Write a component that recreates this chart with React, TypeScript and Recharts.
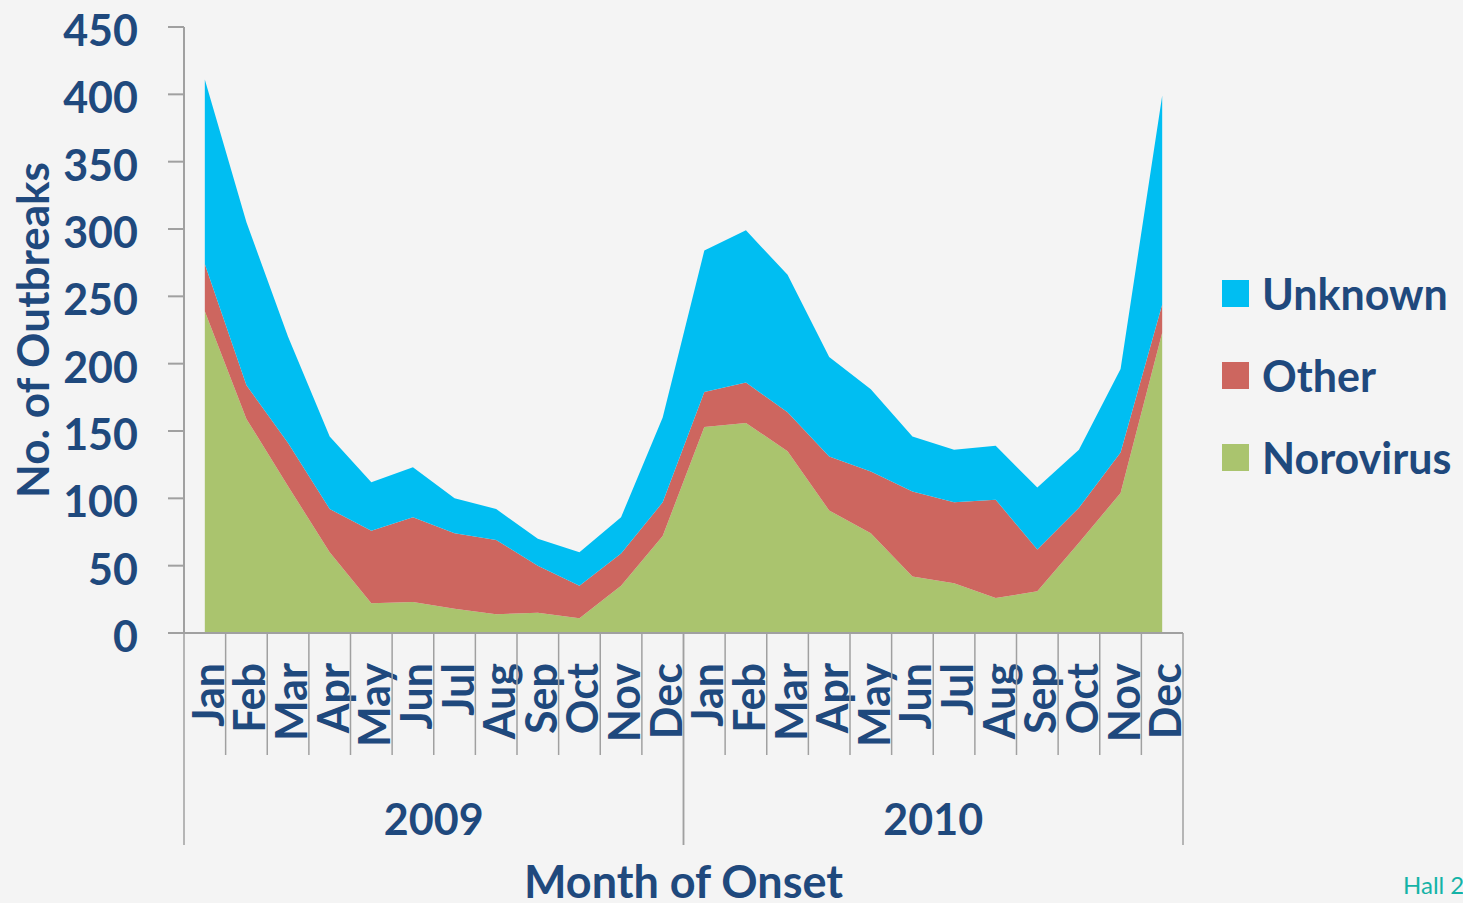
import React from 'react';
import { AreaChart, Area, XAxis, YAxis, Legend } from 'recharts';

const months = ['Jan', 'Feb', 'Mar', 'Apr', 'May', 'Jun', 'Jul', 'Aug', 'Sep', 'Oct', 'Nov', 'Dec'];
const years = ['2009', '2010'];
const norovirus = [239, 159, 109, 60, 22, 23, 18, 14, 15, 11, 35, 72, 153, 156, 135, 91, 74, 42, 37, 26, 31, 67, 104, 223];
const other = [35, 25, 32, 32, 54, 63, 56, 55, 35, 24, 24, 25, 26, 30, 29, 40, 46, 63, 60, 73, 31, 26, 30, 21];
const unknown = [137, 121, 79, 54, 36, 37, 26, 23, 20, 25, 27, 63, 105, 113, 102, 74, 61, 41, 39, 40, 46, 43, 62, 155];
const yTicks = [0, 50, 100, 150, 200, 250, 300, 350, 400, 450];

const data = years.flatMap((yr, yi) =>
  months.map((m, mi) => {
    const i = yi * 12 + mi;
    return { key: `${m} ${yr}`, month: m, year: yr, Norovirus: norovirus[i], Other: other[i], Unknown: unknown[i] };
  })
);

const W = 1463;
const H = 903;
const PLOT_LEFT = 184;
const PLOT_RIGHT = 1183;
const PLOT_TOP = 27;
const PLOT_BOTTOM = 633;
const LEGEND_W = 240;
const BAND = (PLOT_RIGHT - PLOT_LEFT) / data.length;

const TEXT = '#1F497D';
const AXIS = '#A0A0A0';
const FONT = 'Lato, "Open Sans", sans-serif';
const COLORS: Record<string, string> = { Norovirus: '#AAC46E', Other: '#CD665F', Unknown: '#00BEF2' };

const XTick = (props: any) => {
  const { x, y, payload } = props;
  const i = payload.index;
  const d = data[i];
  const left = x - BAND / 2;
  const right = x + BAND / 2;
  const first = i % 12 === 0;
  const last = i % 12 === 11;
  return (
    <g>
      <line x1={left} x2={left} y1={y} y2={y + (first ? 212 : 122)} stroke={AXIS} strokeWidth={1.5} />
      {last && <line x1={right} x2={right} y1={y} y2={y + 212} stroke={AXIS} strokeWidth={1.5} />}
      <text
        transform={`translate(${x + 19},${y + 30}) rotate(-90)`}
        textAnchor="end"
        fill={TEXT}
        fontFamily={FONT}
        fontWeight={700}
        fontSize={43}
      >
        {d.month}
      </text>
      {first && (
        <text x={left + 6 * BAND} y={y + 202} textAnchor="middle" fill={TEXT} fontFamily={FONT} fontWeight={700} fontSize={43}>
          {d.year}
        </text>
      )}
    </g>
  );
};

const YTick = (props: any) => {
  const { x, y, payload } = props;
  return (
    <text x={x} y={y + 19} textAnchor="end" fill={TEXT} fontFamily={FONT} fontWeight={700} fontSize={43}>
      {payload.value}
    </text>
  );
};

const YLabel = (props: any) => {
  const vb = props.viewBox || {};
  const cx = (vb.x ?? 0) + 49;
  const cy = (vb.y ?? PLOT_TOP) + (vb.height ?? PLOT_BOTTOM - PLOT_TOP) / 2;
  return (
    <text transform={`translate(${cx},${cy}) rotate(-90)`} textAnchor="middle" fill={TEXT} fontFamily={FONT} fontWeight={700} fontSize={44}>
      No. of Outbreaks
    </text>
  );
};

const XLabel = (props: any) => {
  const vb = props.viewBox || {};
  const cx = (vb.x ?? PLOT_LEFT) + (vb.width ?? PLOT_RIGHT - PLOT_LEFT) / 2;
  const by = (vb.y ?? PLOT_BOTTOM) + 265;
  return (
    <text x={cx} y={by} textAnchor="middle" fill={TEXT} fontFamily={FONT} fontWeight={700} fontSize={45}>
      Month of Onset
    </text>
  );
};

const LegendContent = (props: any) => {
  const items = [...(props.payload || [])].reverse();
  return (
    <div style={{ fontFamily: FONT }}>
      {items.map((it: any) => (
        <div key={it.value} style={{ display: 'flex', alignItems: 'center', height: 82 }}>
          <div style={{ width: 27, height: 27, background: COLORS[it.value], marginRight: 13, flexShrink: 0 }} />
          <span style={{ color: TEXT, fontWeight: 700, fontSize: 43, lineHeight: '43px', whiteSpace: 'nowrap' }}>{it.value}</span>
        </div>
      ))}
    </div>
  );
};

export default function App() {
  return (
    <div style={{ position: 'absolute', left: 0, top: 0, width: W, height: H, background: '#F4F4F4', overflow: 'hidden', fontFamily: FONT }}>
      <AreaChart
        width={W}
        height={H}
        data={data}
        margin={{ top: PLOT_TOP, right: W - PLOT_RIGHT - LEGEND_W, bottom: 0, left: 0 }}
      >
        <XAxis
          dataKey="key"
          interval={0}
          height={H - PLOT_BOTTOM}
          padding={{ left: BAND / 2, right: BAND / 2 }}
          tickLine={false}
          tickSize={0}
          tickMargin={0}
          axisLine={{ stroke: AXIS, strokeWidth: 2 }}
          tick={<XTick />}
          label={<XLabel />}
        />
        <YAxis
          width={PLOT_LEFT}
          domain={[0, 450]}
          ticks={yTicks}
          interval={0}
          tickSize={16}
          tickMargin={30}
          tickLine={{ stroke: AXIS, strokeWidth: 2 }}
          axisLine={{ stroke: AXIS, strokeWidth: 2 }}
          tick={<YTick />}
          label={<YLabel />}
        />
        <Legend
          content={<LegendContent />}
          layout="vertical"
          align="right"
          verticalAlign="middle"
          wrapperStyle={{ position: 'absolute', left: 1222, top: 252, width: LEGEND_W, height: 246 }}
        />
        <Area type="linear" dataKey="Norovirus" stackId="a" stroke="none" fill={COLORS.Norovirus} fillOpacity={1} isAnimationActive={false} />
        <Area type="linear" dataKey="Other" stackId="a" stroke="none" fill={COLORS.Other} fillOpacity={1} isAnimationActive={false} />
        <Area type="linear" dataKey="Unknown" stackId="a" stroke="none" fill={COLORS.Unknown} fillOpacity={1} isAnimationActive={false} />
      </AreaChart>
      <div style={{ position: 'absolute', left: 1403, top: 870, color: '#14B3A7', fontFamily: FONT, fontSize: 24, whiteSpace: 'nowrap' }}>
        Hall 2011
      </div>
    </div>
  );
}
